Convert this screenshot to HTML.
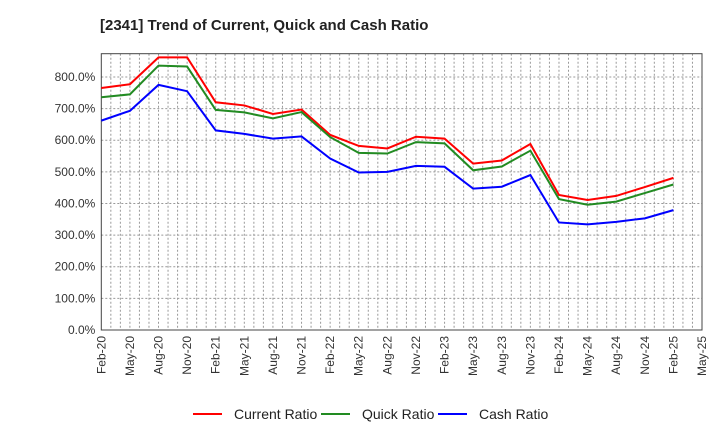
<!DOCTYPE html>
<html><head><meta charset="utf-8"><style>
body{margin:0;background:#fff;font-family:"Liberation Sans",sans-serif}
svg text{font-family:"Liberation Sans",sans-serif}
</style></head><body>
<svg id="c" width="720" height="440" xmlns="http://www.w3.org/2000/svg">
<text x="100" y="30" font-size="15" font-weight="bold" fill="#222">[2341]  Trend of Current, Quick and Cash Ratio</text>
<g id="grid"></g><g id="axes"></g><g id="series"></g>
<g id="legend"></g>
</svg>
<script>
const categories=["Feb-20","May-20","Aug-20","Nov-20","Feb-21","May-21","Aug-21","Nov-21","Feb-22","May-22","Aug-22","Nov-22","Feb-23","May-23","Aug-23","Nov-23","Feb-24","May-24","Aug-24","Nov-24","Feb-25","May-25"];
const currentRatio=[765,777,862,862,720,710,683,697,617,582,574,611,605,526,536,588,427,411,424,452,481];
const quickRatio=[736,745,836,833,696,688,669,689,610,560,558,594,590,505,517,567,414,396,406,433,460];
const cashRatio=[662,693,775,755,631,620,605,612,542,498,500,519,516,447,453,490,340,334,342,353,379];
const yTicks=[0,100,200,300,400,500,600,700,800];
const L=101.3,R=702,T=53.7,B=330,yMax=873.6;
const NS="http://www.w3.org/2000/svg";
const x=i=>L+i*3*(R-L)/63;
const xm=m=>L+m*(R-L)/63;
const y=v=>B-v/yMax*(B-T);
function mk(tag,attrs,parent){const e=document.createElementNS(NS,tag);for(const k in attrs)e.setAttribute(k,attrs[k]);parent.appendChild(e);return e;}
const grid=document.getElementById('grid'),axes=document.getElementById('axes'),ser=document.getElementById('series'),leg=document.getElementById('legend');
for(let m=1;m<63;m++){const l=mk('line',{x1:xm(m),x2:xm(m),y1:T,y2:B,stroke:'#999','stroke-width':1,'stroke-dasharray':'2,2'},grid);

}
yTicks.forEach(v=>{if(v>0){const l=mk('line',{x1:L,x2:R,y1:y(v),y2:y(v),stroke:'#999','stroke-width':1,'stroke-dasharray':'2,2'},grid);

}
const t=mk('text',{x:L-6,y:y(v)+4,'text-anchor':'end','font-size':12,fill:'#333'},axes);t.textContent=v.toFixed(1)+'%';

});
const fr=mk('rect',{x:L,y:T,width:R-L,height:B-T,fill:'none',stroke:'#444','stroke-width':1},axes);


categories.forEach((c,i)=>{const t=mk('text',{transform:`translate(${x(i)+4},${B+6}) rotate(-90)`,'text-anchor':'end','font-size':12,fill:'#333'},axes);t.textContent=c;

});
const S=[[currentRatio,'#ff0000','Current Ratio','current-ratio'],[quickRatio,'#228b22','Quick Ratio','quick-ratio'],[cashRatio,'#0000ff','Cash Ratio','cash-ratio']];
S.forEach(([d,col,name,key],k)=>{const p=mk('polyline',{points:d.map((v,i)=>x(i)+','+y(v)).join(' '),fill:'none',stroke:col,'stroke-width':2},ser);


const lx=[193,321,438][k];
const ll=mk('line',{x1:lx,x2:lx+29,y1:414,y2:414,stroke:col,'stroke-width':2},leg);


const lt=mk('text',{x:lx+41,y:419,'font-size':14,fill:'#222'},leg);lt.textContent=name;

});
</script>
</body></html>
